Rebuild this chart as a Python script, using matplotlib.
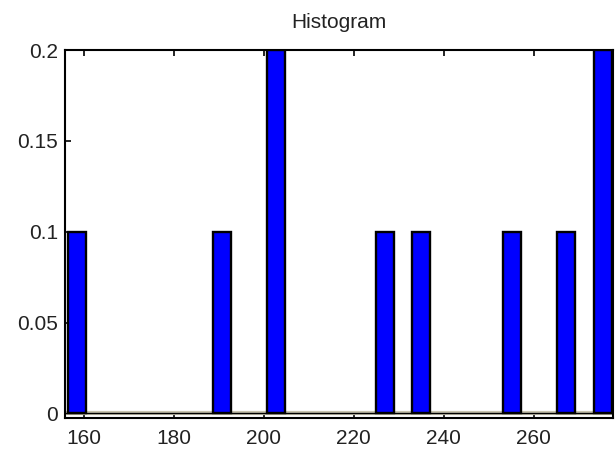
import matplotlib
matplotlib.use("Agg")
import matplotlib.pyplot as plt
import numpy as np

# Data (bin centers and relative frequencies)
bin_centers = [158.4, 190.6, 202.7, 226.9, 234.9, 255.1, 267.2, 275.3]
frequencies = [0.1, 0.1, 0.2, 0.1, 0.1, 0.1, 0.1, 0.2]
bin_width = 4.03
x_ticks = [160, 180, 200, 220, 240, 260]
y_ticks = [0, 0.05, 0.1, 0.15, 0.2]
y_tick_labels = ["0", "0.05", "0.1", "0.15", "0.2"]
title_text = "Histogram"

plt.rcParams['font.family'] = ['Liberation Sans', 'DejaVu Sans']

fig = plt.figure(figsize=(6.15, 4.49), dpi=100)
ax = fig.add_axes([0.1057, 0.069, 0.891, 0.8196])

ax.bar(bin_centers, frequencies, width=bin_width, color=(0, 0, 1),
       edgecolor='black', linewidth=1.7, zorder=3)

ax.axhline(0, color='#c8c4b0', linewidth=3, zorder=2)
ax.axhline(0, color='black', linewidth=1.0, zorder=4)

ax.set_xlim(155.8, 277.6)
ax.set_ylim(-0.0025, 0.2)
ax.set_xticks(x_ticks)
ax.set_yticks(y_ticks)
ax.set_yticklabels(y_tick_labels)
ax.tick_params(direction='in', length=4, width=1.2, top=True, right=True,
               labelsize=15, labelcolor='#222222', pad=5)
ax.tick_params(axis='x', pad=8)
for s in ax.spines.values():
    s.set_linewidth(1.5)
    s.set_color('black')

ax.set_title(title_text, fontsize=15, pad=16, color='#222222')

fig.savefig("out.png", dpi=100)
